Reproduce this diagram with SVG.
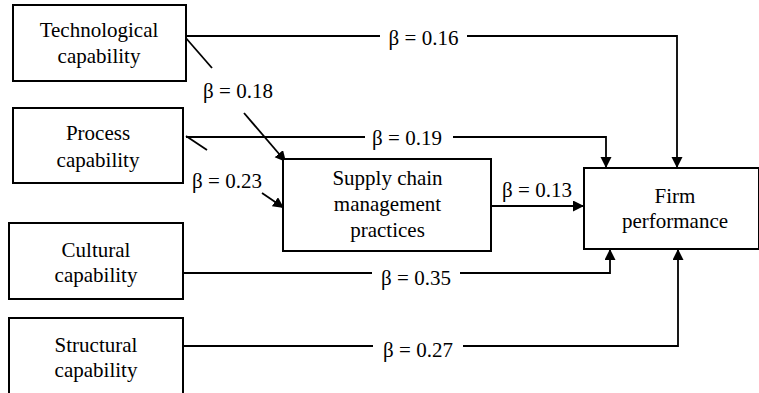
<svg xmlns="http://www.w3.org/2000/svg" width="759" height="393" viewBox="0 0 759 393">
<style>
.box{fill:#fff;stroke:#000;stroke-width:2}
.ln{fill:none;stroke:#000;stroke-width:1.8}
</style>
<defs>
<marker id="ah" markerUnits="userSpaceOnUse" markerWidth="12" markerHeight="12" refX="11" refY="5.5" orient="auto">
<path d="M0,0 L11,5.5 L0,11 z" fill="#000"/>
</marker>
</defs>
<rect width="759" height="393" fill="#fff"/>
<g id="connectors">
<path class="ln" d="M186,36 H380"/>
<path class="ln" d="M467,36 H677 V168" marker-end="url(#ah)"/>
<path class="ln" d="M186,137 H365"/>
<path class="ln" d="M453,137 H606 V168" marker-end="url(#ah)"/>
<path class="ln" d="M491,206 H584" marker-end="url(#ah)"/>
<path class="ln" d="M185,37 L212,68"/>
<path class="ln" d="M244,113 L286,162" marker-end="url(#ah)"/>
<path class="ln" d="M186,136 L207,150"/>
<path class="ln" d="M262,193 L284,208" marker-end="url(#ah)"/>
<path class="ln" d="M183,273 H372"/>
<path class="ln" d="M460,273 H610 V249" marker-end="url(#ah)"/>
<path class="ln" d="M183,346 H373"/>
<path class="ln" d="M463,346 H678 V249" marker-end="url(#ah)"/>
<g font-family="Liberation Serif" font-size="21" text-anchor="middle" fill="#000">
<text x="423.5" y="45">β = 0.16</text>
<text x="407" y="145">β = 0.19</text>
<text x="537" y="197">β = 0.13</text>
<text x="238" y="98">β = 0.18</text>
<text x="227" y="188">β = 0.23</text>
<text x="416" y="285">β = 0.35</text>
<text x="418" y="357">β = 0.27</text>
</g>
</g>
<g id="tech" font-family="Liberation Serif" font-size="21" text-anchor="middle">
<rect class="box" x="13" y="5" width="173" height="76"/>
<text x="99" y="37">Technological</text>
<text x="99" y="63">capability</text>
</g>
<g id="process" font-family="Liberation Serif" font-size="21" text-anchor="middle">
<rect class="box" x="13" y="108" width="170" height="75"/>
<text x="98" y="140">Process</text>
<text x="98" y="167">capability</text>
</g>
<g id="cultural" font-family="Liberation Serif" font-size="21" text-anchor="middle">
<rect class="box" x="9" y="223" width="174" height="76"/>
<text x="96" y="257">Cultural</text>
<text x="96" y="282">capability</text>
</g>
<g id="structural" font-family="Liberation Serif" font-size="21" text-anchor="middle">
<rect class="box" x="9" y="318" width="174" height="80"/>
<text x="96" y="352">Structural</text>
<text x="96" y="377">capability</text>
</g>
<g id="scm" font-family="Liberation Serif" font-size="21" text-anchor="middle">
<rect class="box" x="283" y="159" width="208" height="92"/>
<text x="387.5" y="185">Supply chain</text>
<text x="387.5" y="211">management</text>
<text x="387.5" y="237">practices</text>
</g>
<g id="firm" font-family="Liberation Serif" font-size="21" text-anchor="middle">
<rect class="box" x="584" y="168" width="175" height="81"/>
<text x="675" y="203">Firm</text>
<text x="675" y="228">performance</text>
</g>
</svg>
